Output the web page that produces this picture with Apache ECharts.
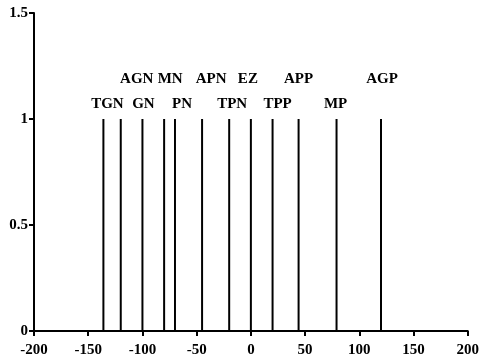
<!DOCTYPE html>
<html>
<head>
<meta charset="utf-8">
<script src="https://cdn.jsdelivr.net/npm/echarts@6/dist/echarts.min.js"></script>
<style>html,body{margin:0;padding:0;background:#fff}#c{width:482px;height:362px}</style>
</head>
<body>
<div id="c"></div>
<script>
// Data
var names = ['TGN','AGN','GN','MN','PN','APN','TPN','EZ','TPP','APP','MP','AGP'];
var positions = [-136, -120, -100, -80, -70, -45, -20, 0, 20, 44, 79, 120];
var heights = [1, 1, 1, 1, 1, 1, 1, 1, 1, 1, 1, 1];
var xTicks = [-200, -150, -100, -50, 0, 50, 100, 150, 200];
var yTicks = [0, 0.5, 1, 1.5];

// Label layout (style, not data)
var labelRow = [0,1,0,1,0,1,0,1,0,1,0,1];
var labelDx = [4, 16, 1, 6, 7, 9, 3, -3, 5, 0, -1, 1];
var rowDistance = [7, 32];

var FONT = 'Liberation Serif';
var chart = echarts.init(document.getElementById('c'), null, {renderer: 'canvas'});
var data = positions.map(function (x, i) {
  return {
    value: [x, heights[i]],
    name: names[i],
    label: {
      show: true,
      position: 'top',
      distance: rowDistance[labelRow[i]],
      offset: [labelDx[i], 0],
      formatter: names[i],
      color: '#000',
      fontFamily: FONT,
      fontWeight: 'bold',
      fontSize: 15
    }
  };
});
chart.setOption({
  animation: false,
  backgroundColor: '#fff',
  grid: {left: 34, right: 14, top: 13, bottom: 31, containLabel: false},
  xAxis: {
    type: 'value', min: xTicks[0], max: xTicks[xTicks.length - 1], interval: 50,
    axisLine: {show: true, onZero: false, lineStyle: {color: '#000', width: 2}},
    axisTick: {show: true, length: 5, inside: false, lineStyle: {color: '#000', width: 2}},
    axisLabel: {color: '#000', fontFamily: FONT, fontWeight: 'bold', fontSize: 15, margin: 12},
    splitLine: {show: false}
  },
  yAxis: {
    type: 'value', min: yTicks[0], max: yTicks[yTicks.length - 1], interval: 0.5,
    axisLine: {show: true, onZero: false, lineStyle: {color: '#000', width: 2}},
    axisTick: {show: true, length: 5, lineStyle: {color: '#000', width: 2}},
    axisLabel: {color: '#000', fontFamily: FONT, fontWeight: 'bold', fontSize: 15, margin: 6},
    splitLine: {show: false}
  },
  series: [{
    type: 'bar',
    barWidth: 2,
    itemStyle: {color: '#000'},
    data: data
  }]
});
</script>
</body>
</html>
